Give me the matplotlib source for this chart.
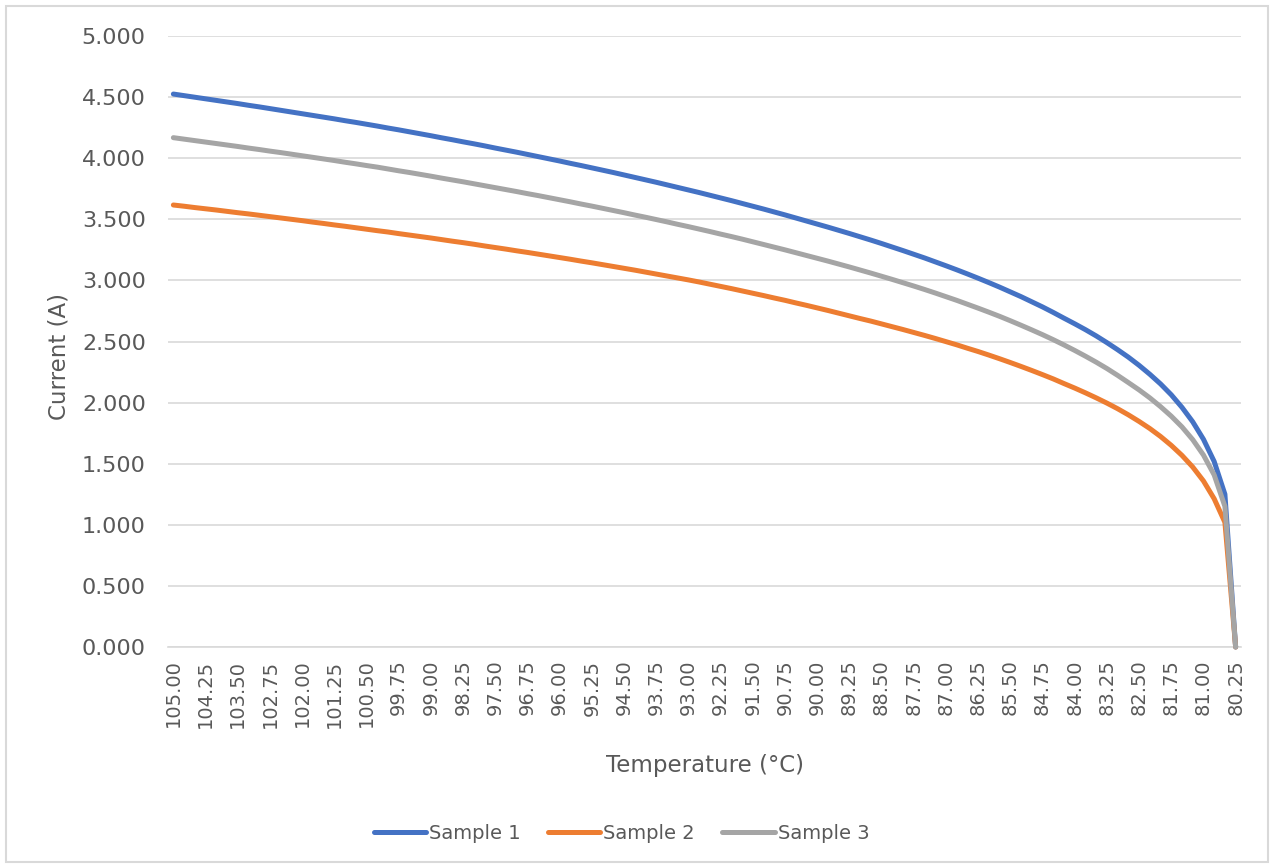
import numpy as np
import matplotlib
matplotlib.use("Agg")
import matplotlib.pyplot as plt
from matplotlib.patches import Rectangle
from matplotlib.ticker import FormatStrFormatter

# temperature categories (°C), as on the category axis
temps = [
    105.00, 104.75, 104.50, 104.25, 104.00, 103.75, 103.50, 103.25,
    103.00, 102.75, 102.50, 102.25, 102.00, 101.75, 101.50, 101.25,
    101.00, 100.75, 100.50, 100.25, 100.00, 99.75, 99.50, 99.25,
    99.00, 98.75, 98.50, 98.25, 98.00, 97.75, 97.50, 97.25,
    97.00, 96.75, 96.50, 96.25, 96.00, 95.75, 95.50, 95.25,
    95.00, 94.75, 94.50, 94.25, 94.00, 93.75, 93.50, 93.25,
    93.00, 92.75, 92.50, 92.25, 92.00, 91.75, 91.50, 91.25,
    91.00, 90.75, 90.50, 90.25, 90.00, 89.75, 89.50, 89.25,
    89.00, 88.75, 88.50, 88.25, 88.00, 87.75, 87.50, 87.25,
    87.00, 86.75, 86.50, 86.25, 86.00, 85.75, 85.50, 85.25,
    85.00, 84.75, 84.50, 84.25, 84.00, 83.75, 83.50, 83.25,
    83.00, 82.75, 82.50, 82.25, 82.00, 81.75, 81.50, 81.25,
    81.00, 80.75, 80.50, 80.25,
]

# current (A)
sample1 = [
    4.525, 4.512, 4.499, 4.486, 4.473, 4.460, 4.447, 4.433,
    4.420, 4.406, 4.392, 4.378, 4.364, 4.350, 4.336, 4.322,
    4.307, 4.293, 4.278, 4.263, 4.247, 4.232, 4.216, 4.200,
    4.184, 4.167, 4.151, 4.134, 4.118, 4.101, 4.083, 4.066,
    4.049, 4.031, 4.013, 3.995, 3.977, 3.958, 3.940, 3.921,
    3.902, 3.883, 3.863, 3.843, 3.823, 3.803, 3.782, 3.761,
    3.740, 3.719, 3.697, 3.675, 3.653, 3.630, 3.607, 3.584,
    3.560, 3.536, 3.511, 3.486, 3.461, 3.436, 3.410, 3.384,
    3.357, 3.330, 3.302, 3.273, 3.244, 3.214, 3.184, 3.152,
    3.120, 3.087, 3.053, 3.018, 2.982, 2.945, 2.906, 2.867,
    2.825, 2.783, 2.738, 2.691, 2.645, 2.597, 2.546, 2.491,
    2.433, 2.372, 2.305, 2.232, 2.153, 2.064, 1.961, 1.843,
    1.700, 1.518, 1.250, 0.000,
]

sample2 = [
    3.617, 3.607, 3.596, 3.586, 3.576, 3.565, 3.554, 3.544,
    3.533, 3.522, 3.511, 3.500, 3.489, 3.477, 3.466, 3.454,
    3.443, 3.431, 3.419, 3.407, 3.396, 3.383, 3.371, 3.359,
    3.347, 3.334, 3.321, 3.309, 3.296, 3.282, 3.269, 3.256,
    3.242, 3.229, 3.215, 3.201, 3.187, 3.173, 3.158, 3.144,
    3.129, 3.114, 3.099, 3.084, 3.068, 3.052, 3.036, 3.020,
    3.004, 2.987, 2.969, 2.951, 2.933, 2.914, 2.895, 2.876,
    2.856, 2.837, 2.816, 2.796, 2.775, 2.754, 2.732, 2.710,
    2.688, 2.667, 2.644, 2.621, 2.598, 2.574, 2.550, 2.525,
    2.499, 2.473, 2.445, 2.418, 2.389, 2.359, 2.328, 2.296,
    2.263, 2.229, 2.194, 2.156, 2.119, 2.080, 2.039, 1.996,
    1.950, 1.900, 1.846, 1.788, 1.723, 1.650, 1.568, 1.473,
    1.359, 1.213, 1.020, 0.000,
]

sample3 = [
    4.168, 4.156, 4.144, 4.132, 4.120, 4.108, 4.096, 4.083,
    4.071, 4.058, 4.046, 4.033, 4.020, 4.007, 3.994, 3.981,
    3.967, 3.954, 3.940, 3.927, 3.912, 3.897, 3.883, 3.868,
    3.853, 3.837, 3.822, 3.807, 3.791, 3.775, 3.759, 3.743,
    3.727, 3.710, 3.694, 3.677, 3.660, 3.643, 3.625, 3.608,
    3.590, 3.572, 3.554, 3.535, 3.517, 3.498, 3.479, 3.459,
    3.440, 3.420, 3.400, 3.379, 3.359, 3.338, 3.316, 3.294,
    3.272, 3.250, 3.227, 3.204, 3.181, 3.158, 3.134, 3.110,
    3.085, 3.060, 3.034, 3.008, 2.981, 2.954, 2.926, 2.897,
    2.867, 2.837, 2.805, 2.773, 2.740, 2.706, 2.670, 2.633,
    2.595, 2.556, 2.515, 2.472, 2.427, 2.380, 2.331, 2.279,
    2.223, 2.164, 2.104, 2.039, 1.967, 1.889, 1.801, 1.697,
    1.571, 1.408, 1.151, 0.000,
]

series = [
    ("Sample 1", sample1, "#4472C4"),
    ("Sample 2", sample2, "#ED7D31"),
    ("Sample 3", sample3, "#A5A5A5"),
]

W, H = 1271, 867
text_col = "#595959"
grid_col = "#D9D9D9"

fig = plt.figure(figsize=(W / 100, H / 100), dpi=100)
ax = fig.add_axes([168 / W, 1 - 647 / H, (1241 - 168) / W, (647 - 36) / H])

x = np.arange(len(temps))
for name, vals, col in series:
    ax.plot(x, vals, color=col, lw=3.6, label=name,
            solid_capstyle="round", solid_joinstyle="round",
            clip_on=False, zorder=3)

ax.set_xlim(-0.5, len(temps) - 0.5)
ax.set_ylim(0, 5)
ax.set_yticks(np.arange(0, 5.01, 0.5))
ax.yaxis.set_major_formatter(FormatStrFormatter("%.3f"))

ax.set_xticks(x[::3])
ax.set_xticklabels([f"{t:.2f}" for t in temps[::3]], rotation=90)

ax.grid(axis="y", color=grid_col, lw=1.2)
ax.set_axisbelow(True)
for side in ["left", "right", "top"]:
    ax.spines[side].set_visible(False)
ax.spines["bottom"].set_color(grid_col)
ax.spines["bottom"].set_linewidth(1.2)

ax.tick_params(axis="both", length=0, colors=text_col)
ax.tick_params(axis="y", labelsize=16, pad=16)
ax.tick_params(axis="x", labelsize=14, pad=9)

ax.set_xlabel("Temperature (°C)", fontsize=16.5, color=text_col, labelpad=19)
ax.set_ylabel("Current (A)", fontsize=16.5, color=text_col)
ax.yaxis.set_label_coords(-0.0913, 0.476)

fig.legend(loc="center", bbox_to_anchor=(0.489, 0.039), ncol=3,
           frameon=False, fontsize=14, handlelength=2.7,
           handletextpad=0.15, columnspacing=1.4, labelcolor=text_col)

# chart area border
fig.patches.append(Rectangle((6 / W, 5 / H), (1268 - 6) / W, (861 - 5) / H,
                             transform=fig.transFigure, fill=False,
                             edgecolor=grid_col, lw=1.5))

fig.savefig("out.png", dpi=100)
